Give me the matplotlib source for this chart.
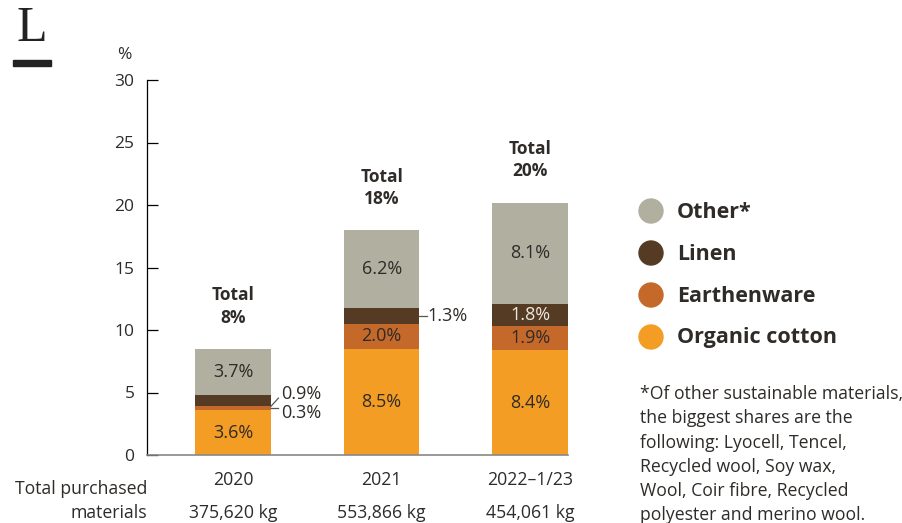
import matplotlib.pyplot as plt
from matplotlib.patches import Rectangle, Ellipse

plt.rcParams['font.family'] = ['Open Sans', 'DejaVu Sans']

years = ["2020", "2021", "2022\u20131/23"]
purchased = ["375,620 kg", "553,866 kg", "454,061 kg"]
totals = ["8%", "18%", "20%"]

# stacked from the bottom up
materials = ["Organic cotton", "Earthenware", "Linen", "Other*"]
cotton = [3.6, 8.5, 8.4]
earthenware = [0.3, 2.0, 1.9]
linen = [0.9, 1.3, 1.8]
other = [3.7, 6.2, 8.1]

colors = ["#f49d24", "#c5692b", "#553b23", "#b0afa0"]
txt = "#2e2b28"
fs = 12.7

fig = plt.figure(figsize=(9.02, 5.23), dpi=100)
ax = fig.add_axes([147 / 902, 68 / 523, 421 / 902, 375 / 523])

x = [0, 1, 2]
w = 0.51
layers = [cotton, earthenware, linen, other]
bottoms = [0, 0, 0]
for vals, col in zip(layers, colors):
    ax.bar(x, vals, w, bottom=bottoms, color=col, linewidth=0)
    bottoms = [b + v for b, v in zip(bottoms, vals)]

# labels inside the bars
def inside(i, layer, color=txt):
    base = sum(layers[k][i] for k in range(layer))
    v = layers[layer][i]
    ax.text(x[i], base + v / 2, f"{v:.1f}%", ha="center", va="center",
            fontsize=13, color=color)

inside(0, 0); inside(0, 3)
inside(1, 0); inside(1, 1); inside(1, 3)
inside(2, 0); inside(2, 1); inside(2, 2, color="#ece8e0"); inside(2, 3)

# small layers labelled beside the bar
y09 = cotton[0] + earthenware[0] + linen[0] / 2
y03 = cotton[0] + earthenware[0] / 2
ax.plot([x[0] + w / 2, x[0] + w / 2 + 0.05], [y09 - 0.45, y09 + 0.2],
        color="#555555", lw=0.9, clip_on=False)
ax.text(x[0] + w / 2 + 0.065, y09 + 0.55, "0.9%", ha="left", va="center",
        fontsize=13, color=txt)
ax.plot([x[0] + w / 2, x[0] + w / 2 + 0.05], [y03, y03],
        color="#555555", lw=0.9, clip_on=False)
ax.text(x[0] + w / 2 + 0.065, y03 - 0.35, "0.3%", ha="left", va="center",
        fontsize=13, color=txt)

y13 = cotton[1] + earthenware[1] + linen[1] / 2
ax.plot([x[1] + w / 2, x[1] + w / 2 + 0.05], [y13, y13],
        color="#555555", lw=0.9, clip_on=False)
ax.text(x[1] + w / 2 + 0.055, y13, "1.3%", ha="left", va="center",
        fontsize=13, color=txt)

# totals above the bars
for i in range(3):
    ax.annotate(f"Total\n{totals[i]}", (x[i], bottoms[i]), xytext=(0, 16),
                textcoords="offset points", ha="center", va="bottom",
                fontsize=12.5, fontweight="bold", color=txt, linespacing=1.3)

ax.set_xlim(-0.58, 2.255)
ax.set_ylim(0, 30)
ax.set_yticks(range(0, 31, 5))
ax.set_xticks([])
ax.tick_params(axis="y", direction="in", length=8, width=0.9,
               labelsize=12.5, labelcolor=txt, pad=9)
ax.spines["top"].set_visible(False)
ax.spines["right"].set_visible(False)
ax.spines["left"].set_linewidth(0.9)
ax.spines["bottom"].set_color("#888888")
ax.spines["bottom"].set_linewidth(1.2)
ax.text(-0.07, 1.067, "%", transform=ax.transAxes, fontsize=12.5,
        color=txt, ha="left", va="center")

for i in range(3):
    ax.text(x[i], -2.0, years[i], ha="center", va="center", fontsize=fs,
            color=txt, clip_on=False)
    ax.text(x[i], -4.6, purchased[i], ha="center", va="center", fontsize=fs,
            color=txt, clip_on=False)
ax.text(-0.58, -2.7, "Total purchased", ha="right", va="center",
        fontsize=fs, color=txt, clip_on=False)
ax.text(-0.58, -4.6, "materials", ha="right", va="center",
        fontsize=fs, color=txt, clip_on=False)

# logo in the corner
fig.text(32 / 902, 1 - 29 / 523, "L", family="Liberation Serif", fontsize=36,
         ha="center", va="center", color="#222222")
fig.patches.append(Rectangle((13 / 902, 1 - 66 / 523), 38 / 902, 6 / 523,
                             transform=fig.transFigure, color="#222222"))

# legend
leg_y = [211, 253, 295, 337]
for name, col, yy in zip(materials[::-1], colors[::-1], leg_y):
    fig.patches.append(Ellipse((651 / 902, 1 - yy / 523), 24 / 902, 24 / 523,
                               transform=fig.transFigure, color=col))
    fig.text(677 / 902, 1 - (yy + 1) / 523, name, fontsize=15.5,
             fontweight="bold", color=txt, ha="left", va="center")

note = ("*Of other sustainable materials,\nthe biggest shares are the\n"
        "following: Lyocell, Tencel,\nRecycled wool, Soy wax,\n"
        "Wool, Coir fibre, Recycled\npolyester and merino wool.")
fig.text(640 / 902, 1 - 385 / 523, note, fontsize=12.7, color=txt,
         ha="left", va="top", linespacing=1.45)

fig.savefig("out.png", dpi=100)
